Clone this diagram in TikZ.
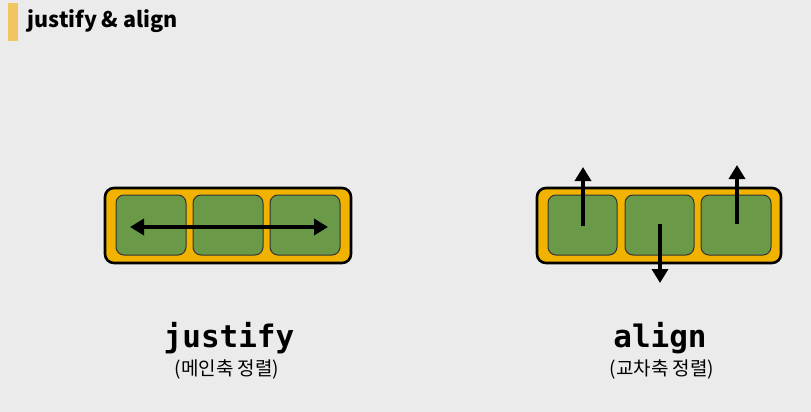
\documentclass[tikz,border=0pt]{standalone}
\usepackage{fontspec}
\newfontfamily\cjk{Noto Sans CJK KR}
\newfontfamily\titlefont{Noto Sans CJK KR}
\newfontfamily\monob{DejaVu Sans Mono}
\usetikzlibrary{arrows.meta}
\definecolor{bg}{HTML}{EBEBEB}
\definecolor{cont}{HTML}{F2B300}
\definecolor{item}{HTML}{6A9A48}
\definecolor{bar}{HTML}{F0C75E}
\tikzset{
  container/.style={draw=black, line width=2.6pt, fill=cont, rounded corners=9pt},
  itembox/.style={draw=black!80, line width=1pt, fill=item, rounded corners=8pt},
  arr/.style={line width=4pt, -{Triangle[length=14pt,width=16pt]}},
  darr/.style={line width=4pt, {Triangle[length=14pt,width=16pt]}-{Triangle[length=14pt,width=16pt]}},
}
\begin{document}
\begin{tikzpicture}[x=1pt,y=-1pt]
\fill[bg] (0,0) rectangle (811,412);
\useasboundingbox (0,0) rectangle (811,412);
\fill[bar] (8,3) rectangle (18,41);
\node[anchor=west, font=\titlefont\bfseries\fontsize{21.5}{24}\selectfont] (title) at (24,21) {justify \& align};
% left
\draw[container] (105,188) rectangle (351,263);
\draw[itembox] (116,195) rectangle (186,255);
\draw[itembox] (193,195) rectangle (263,255);
\draw[itembox] (270,195) rectangle (340,255);
\coordinate (la) at (130,227);
\coordinate (lb) at (328,227);
\draw[darr] (la) -- (lb);
\node[font=\monob\bfseries\fontsize{31}{34}\selectfont] (j) at (229,338) {justify};
\node[font=\cjk\fontsize{19}{22}\selectfont] (jk) at (227,369) {(메인축 정렬)};
% right
\draw[container] (537,188) rectangle (781,263);
\draw[itembox] (548,195) rectangle (617,255);
\draw[itembox] (625,195) rectangle (694,255);
\draw[itembox] (701,195) rectangle (771,255);
\coordinate (a1s) at (583,226);
\coordinate (a1e) at (583,167);
\coordinate (a2s) at (660,224);
\coordinate (a2e) at (660,283);
\coordinate (a3s) at (737,224);
\coordinate (a3e) at (737,165);
\draw[arr] (a1s) -- (a1e);
\draw[arr] (a2s) -- (a2e);
\draw[arr] (a3s) -- (a3e);
\node[font=\monob\bfseries\fontsize{31}{34}\selectfont] (al) at (660,338) {align};
\node[font=\cjk\fontsize{19}{22}\selectfont] (alk) at (662,369) {(교차축 정렬)};
\end{tikzpicture}
\end{document}
